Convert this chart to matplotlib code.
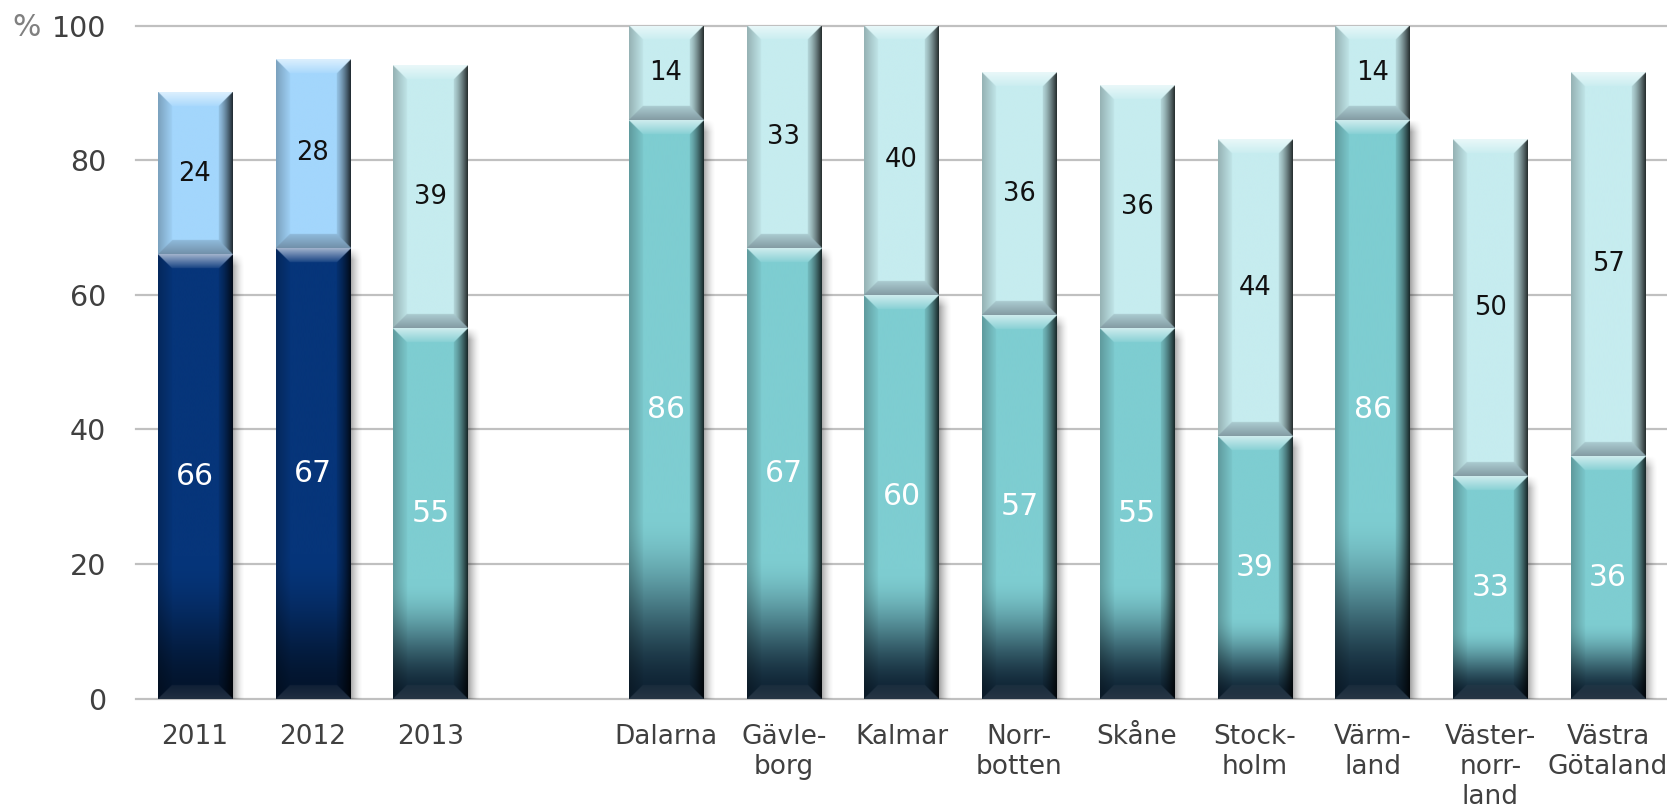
import numpy as np
import matplotlib
matplotlib.use("Agg")
import matplotlib.pyplot as plt
from matplotlib.colors import to_rgb

plt.rcParams["font.family"] = ["DejaVu Sans"]

# 数据
categories = ["2011", "2012", "2013", "Dalarna", "Gävle-\nborg", "Kalmar",
              "Norr-\nbotten", "Skåne", "Stock-\nholm", "Värm-\nland",
              "Väster-\nnorr-\nland", "Västra\nGötaland"]
lower_values = [66, 67, 55, 86, 67, 60, 57, 55, 39, 86, 33, 36]
upper_values = [24, 28, 39, 14, 33, 40, 36, 36, 44, 14, 50, 57]
scheme = ["navy", "navy"] + ["teal"] * 10
yticks = [0, 20, 40, 60, 80, 100]

# 颜色: (下段, 下段底部暗色, 上段)
palette = {
    "navy": ("#06357A", "#03142C", "#A3D6FC"),
    "teal": ("#7ECDD1", "#0E2233", "#C6ECEF"),
}
TEXT_GRAY = "#404040"
BAR_W = 0.63
BEVEL_PX = 14


def mix(col, target, f):
    return col + (np.asarray(target) - col) * f[..., None]


def draw_segment(ax, xc, y0, y1, base, dark, lower, px_x, px_y):
    x0, x1 = xc - BAR_W / 2, xc + BAR_W / 2
    wpx = BAR_W * px_x
    hpx = (y1 - y0) * px_y
    nx = int(wpx * 2)
    ny = max(int(hpx * 2), 4)
    u = (np.arange(nx) + 0.5) / nx * wpx
    v = (np.arange(ny) + 0.5) / ny * hpx
    U, V = np.meshgrid(u, v)
    base = np.array(to_rgb(base))
    col = np.ones((ny, nx, 3)) * base
    if lower:
        # 下段底部渐变变暗
        t = np.clip(V / (0.32 * hpx), 0, 1)
        t = t * t * (3 - 2 * t)
        col = mix(np.ones((ny, nx, 3)) * np.array(to_rgb(dark)), base, t)
    d = np.stack([U, wpx - U, V, hpx - V])
    side = d.argmin(0)
    k = np.clip(1 - d.min(0) / BEVEL_PX, 0, 1)
    inb = k > 0
    zero = np.zeros_like(k)
    # 左
    m = inb & (side == 0)
    col = np.where(m[..., None], mix(col, (0, 0, 0), np.where(m, 0.03 + 0.22 * k, zero)), col)
    # 右
    m = inb & (side == 1)
    col = np.where(m[..., None], mix(col, (0, 0, 0), np.where(m, 0.1 + 0.72 * k ** 1.3, zero)), col)
    # 下
    m = inb & (side == 2)
    col = np.where(m[..., None], mix(col, (0.25, 0.29, 0.34), np.where(m, 0.2 + 0.3 * k, zero)), col)
    # 上
    m = inb & (side == 3)
    col = np.where(m[..., None], mix(col, (1, 1, 1), np.where(m, 0.08 + 0.55 * k, zero)), col)
    ax.imshow(np.clip(col, 0, 1), extent=(x0, x1, y0, y1), origin="lower",
              aspect="auto", interpolation="bilinear", zorder=3)


def draw_shadow(ax, xc, y0, y1, px_x, px_y):
    x1 = xc + BAR_W / 2
    spx = 13
    hpx = (y1 - y0) * px_y
    nx, ny = spx * 2, max(int(hpx), 4)
    s = (np.arange(nx) + 0.5) / nx * spx
    v = (np.arange(ny) + 0.5) / ny * hpx
    S, V = np.meshgrid(s, v)
    a = 0.38 * (1 - S / spx) ** 1.6
    a = a * np.clip((hpx - V) / 12, 0, 1)
    img = np.zeros((ny, nx, 4))
    img[..., 3] = a
    ax.imshow(img, extent=(x1, x1 + spx / px_x, y0, y1), origin="lower",
              aspect="auto", interpolation="bilinear", zorder=2)


fig = plt.figure(figsize=(16.67, 8.08), dpi=100)
ax = fig.add_axes([0.0816, 0.1355, 0.9184, 0.8328])
ax.set_xlim(-0.5, 12.5)
ax.set_ylim(0, 100)

positions = np.arange(len(categories), dtype=float)
positions[3:] += 1  # 年份和地区之间留空

p0 = ax.transData.transform((0, 0))
p1 = ax.transData.transform((1, 1))
px_x, px_y = p1[0] - p0[0], p1[1] - p0[1]

for xc, lo, up, sc in zip(positions, lower_values, upper_values, scheme):
    c_lo, c_dark, c_up = palette[sc]
    draw_shadow(ax, xc, 0, lo, px_x, px_y)
    draw_segment(ax, xc, 0, lo, c_lo, c_dark, True, px_x, px_y)
    draw_segment(ax, xc, lo, lo + up, c_up, None, False, px_x, px_y)
    ax.text(xc, lo / 2, str(lo), ha="center", va="center", color="white",
            fontsize=21.5, zorder=5)
    ax.text(xc, lo + up / 2, str(up), ha="center", va="center", color="#111111",
            fontsize=18.5, zorder=5)

ax.set_xlim(-0.5, 12.5)
ax.set_ylim(0, 100)
ax.set_xticks(positions)
ax.set_xticklabels(categories, fontsize=19, color=TEXT_GRAY, linespacing=1.2)
ax.set_yticks(yticks)
ax.set_yticklabels([str(t) for t in yticks], fontsize=20.5, color=TEXT_GRAY)
ax.tick_params(axis="x", length=0, pad=18)
ax.tick_params(axis="y", length=0, pad=21.5)
for s in ax.spines.values():
    s.set_visible(False)
ax.set_axisbelow(True)
ax.yaxis.grid(True, color="#C0C0C0", linewidth=1.6, zorder=0)
for gl in ax.get_ygridlines():
    gl.set_clip_on(False)

ax.annotate("%", xy=(0, 1), xycoords="axes fraction", xytext=(-89, -1),
            textcoords="offset points", ha="left", va="center",
            fontsize=21.5, color="#808080", annotation_clip=False)

fig.savefig("out.png", dpi=100)
